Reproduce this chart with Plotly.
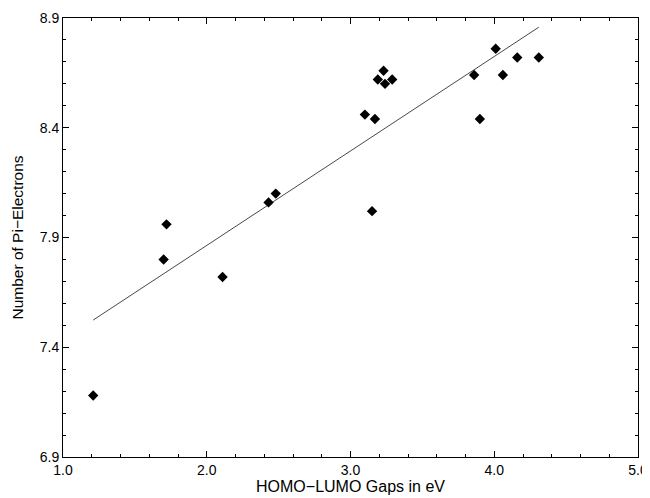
import numpy as np
import plotly.graph_objects as go

# HOMO-LUMO gaps (eV) and number of pi-electrons
gap_ev = [1.21, 1.70, 1.72, 2.11, 2.43, 2.48, 3.10, 3.17, 3.19, 3.23, 3.24,
          3.29, 3.15, 3.86, 3.90, 4.01, 4.06, 4.16, 4.31]
pi_electrons = [7.18, 7.80, 7.96, 7.72, 8.06, 8.10, 8.46, 8.44, 8.62, 8.66, 8.60,
                8.62, 8.02, 8.64, 8.44, 8.76, 8.64, 8.72, 8.72]

x_ticks = [1.0, 2.0, 3.0, 4.0, 5.0]
y_ticks = [6.9, 7.4, 7.9, 8.4, 8.9]

# least-squares line through the data
slope, intercept = np.polyfit(gap_ev, pi_electrons, 1)
fit_x = np.array([min(gap_ev), max(gap_ev)])
fit_y = slope * fit_x + intercept

FONT = "Liberation Sans, Arial, Helvetica"

fig = go.Figure()
fig.add_trace(go.Scatter(x=fit_x, y=fit_y, mode="lines",
                         line=dict(color="#333333", width=0.9),
                         showlegend=False, hoverinfo="skip"))
fig.add_trace(go.Scatter(x=gap_ev, y=pi_electrons, mode="markers",
                         marker=dict(symbol="diamond", size=8, color="black"),
                         showlegend=False))

axis_common = dict(
    showgrid=False, zeroline=False, showline=True, linecolor="black",
    linewidth=1, mirror="allticks", ticks="inside", ticklen=6,
    tickcolor="black", automargin=False,
    tickfont=dict(family=FONT, size=14, color="black"),
)

fig.update_xaxes(range=[1.0, 5.0], tickvals=x_ticks,
                 ticktext=[f"{v:.1f}" for v in x_ticks],
                 minor=dict(dtick=0.2, tick0=1.0, ticks="inside", ticklen=3, tickcolor="black"),
                 title=dict(text="HOMO\u2212LUMO Gaps in eV", standoff=0,
                            font=dict(family=FONT, size=16, color="black")),
                 **axis_common)
fig.update_yaxes(range=[6.9, 8.9], tickvals=y_ticks,
                 ticktext=[f"{v:.1f}" for v in y_ticks],
                 minor=dict(dtick=0.1, tick0=6.9, ticks="inside", ticklen=3, tickcolor="black"),
                 title=dict(text="Number of Pi\u2212Electrons", standoff=12,
                            font=dict(family=FONT, size=15.5, color="black")),
                 **axis_common)

# the page body adds an 8px offset, so the figure is sized to fill the rest
fig.update_layout(width=642, height=490,
                  margin=dict(l=55, r=12, t=10, b=41),
                  plot_bgcolor="white", paper_bgcolor="white")

fig.write_html("out.html")
